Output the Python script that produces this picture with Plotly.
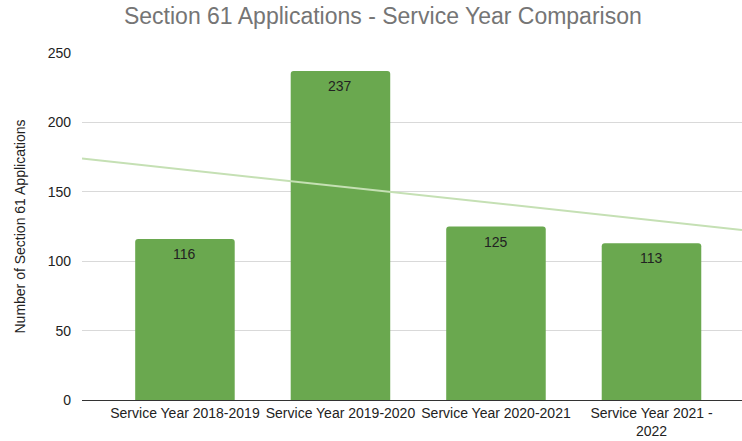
import numpy as np
import plotly.graph_objects as go

# Section 61 application counts by service year
categories = [
    "Service Year 2018-2019",
    "Service Year 2019-2020",
    "Service Year 2020-2021",
    "Service Year 2021 -<br>2022",
]
applications = [116, 237, 125, 113]
y_ticks = [0, 50, 100, 150, 200, 250]

BAR_COLOR = "#6aa84f"
TREND_COLOR = "#c5e0b4"
FONT = "Liberation Sans, Arial, sans-serif"

x_idx = np.arange(len(categories))
x_range = [-0.662, len(categories) - 1 + 0.582]

# Linear trend fitted to the counts
slope, intercept = np.polyfit(x_idx, applications, 1)
trend_x = np.array(x_range)
trend_y = slope * trend_x + intercept

fig = go.Figure()
fig.add_trace(go.Bar(
    x=x_idx,
    y=applications,
    width=0.64,
    marker=dict(color=BAR_COLOR, line=dict(width=0)),
    showlegend=False,
    hoverinfo="skip",
))
fig.add_trace(go.Scatter(
    x=trend_x,
    y=trend_y,
    mode="lines",
    line=dict(color=TREND_COLOR, width=2),
    showlegend=False,
    hoverinfo="skip",
))

# Value labels just inside the top of each bar
for xi, v in zip(x_idx, applications):
    fig.add_annotation(
        x=xi, y=v, text=str(v),
        showarrow=False, yanchor="top", yshift=-5,
        font=dict(size=14, color="#222222", family=FONT),
    )

fig.update_layout(
    width=742,
    height=441,
    margin=dict(l=82, r=0, t=53, b=41),
    plot_bgcolor="white",
    paper_bgcolor="white",
    barcornerradius=3,
    font=dict(family=FONT, color="#222222", size=14),
    title=dict(
        text="Section 61 Applications - Service Year Comparison",
        x=0.516,
        xanchor="center",
        y=0.963,
        yanchor="middle",
        font=dict(size=23, color="#757575", family=FONT),
    ),
    xaxis=dict(
        range=x_range,
        tickmode="array",
        tickvals=list(x_idx),
        ticktext=categories,
        showgrid=False,
        zeroline=False,
        showline=True,
        linecolor="#333333",
        linewidth=1,
        ticks="",
        tickfont=dict(size=14, color="#222222"),
    ),
    yaxis=dict(
        range=[0, 250],
        tickvals=y_ticks,
        showgrid=True,
        gridcolor="#d9d9d9",
        gridwidth=1,
        zeroline=False,
        ticks="",
        ticklabelstandoff=10,
        tickfont=dict(size=14, color="#222222"),
        title=dict(
            text="Number of Section 61 Applications",
            font=dict(size=14, color="#222222"),
            standoff=18,
        ),
    ),
)

fig.write_html("out.html")
